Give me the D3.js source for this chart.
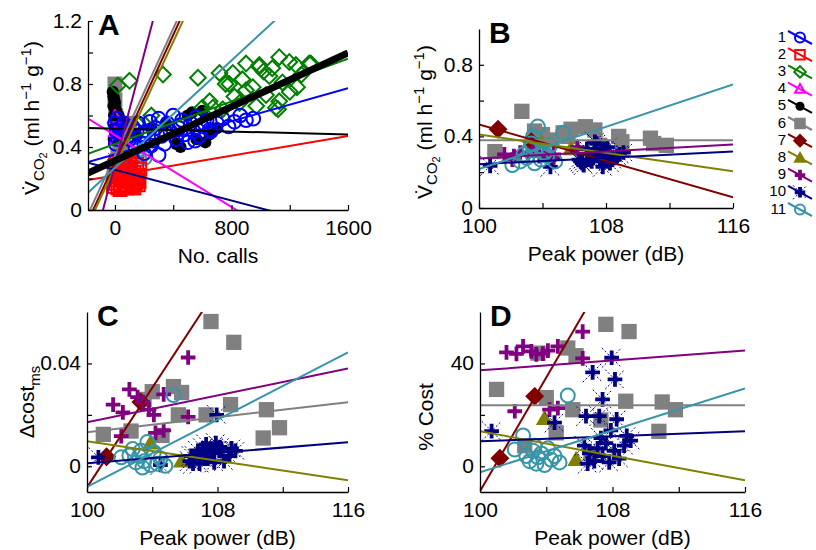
<!DOCTYPE html>
<html>
<head>
<meta charset="utf-8">
<script src="https://cdn.jsdelivr.net/npm/d3@7"></script>
<style>
  body { margin: 0; background: #fff; }
  svg text { font-family: "Liberation Sans", Arial, Helvetica, sans-serif; fill: #000; }
</style>
</head>
<body>
<div id="chart"></div>
<script>
// Series (one per bat), styles follow the legend
const seriesNames = ["1", "2", "3", "4", "5", "6", "7", "8", "9", "10", "11"];
const seriesColors = ["#0000ff", "#ff0000", "#008000", "#ff00ff", "#000000", "#808080",
                      "#800000", "#808000", "#800080", "#000080", "#3795a9"];
const seriesShapes = ["circle", "square", "diamond", "triangle", "dot", "block",
                      "gem", "wedge", "plus", "asterisk", "circle"];

// Panel A: number of calls vs VCO2, per series
const callsA = [
  [0, 10, 20, 5, 15, 30, 40, 60, 80, 100, 120, 140, 160, 180, 200, 220, 240, 260, 280, 300, 320, 340, 360, 380, 400, 420, 440, 460, 480, 500, 520, 540, 560, 580, 600, 630, 660, 700, 740, 780, 820, 860, 900, 950, 90, 300, 250, 350, 450, 550, 650, 150, 200],
  [-10, 0, 10, 20, 30, 40, 50, 60, 70, 80, 90, 100, 110, 120, 130, 140, 150, 160, 170, 5, 25, 55, 100, 15, 45, 130, 160, 35, 65, 85, 115, 145, 165, -5, 75, 105, 125, 155],
  [20, 100, 330, 570, 785, 875, 900, 990, 1128, 1242, 1333, 1150, 1037, 1128, 809, 718, 650, 946, 1060, 855, 970, 740, 600, 672, 1105, 1120, 1345, 1197, 991, 1200, 1280, 1020, 900, 820, 760, 1250, 1080, 150, 250],
  [0, 5, 10],
  [-15, -10, -5, 0, -10, 5, 10, -5, 15, 20, 0, 25, 30, 10, -8, 40, 60, 100, 150, 250, 350, 420, 450, 500, 530, 560, 600, 620, 650, 700],
  [0, 0, 5, 10, 20, 40, 60, 80, 100, 30],
  [10, 40],
  [20, 50],
  [0, 5, 10, 15, 20, 25, 30, 8, 12, 18, 22, 28, 35],
  [0, 10, 20, 40, 60, 80, 100, 30, 50],
  [20, 40, 60, 90, 120, 150, 170, 190, 205, 160]
];
const vco2A = [
  [0.55, 0.5, 0.45, 0.42, 0.58, 0.52, 0.47, 0.55, 0.5, 0.45, 0.53, 0.4, 0.55, 0.48, 0.36, 0.5, 0.56, 0.44, 0.52, 0.58, 0.47, 0.42, 0.55, 0.5, 0.6, 0.45, 0.52, 0.57, 0.48, 0.43, 0.55, 0.5, 0.59, 0.47, 0.53, 0.57, 0.5, 0.55, 0.58, 0.53, 0.56, 0.6, 0.57, 0.58, 0.46, 0.35, 0.41, 0.49, 0.54, 0.44, 0.51, 0.5, 0.42],
  [0.15, 0.17, 0.19, 0.14, 0.21, 0.16, 0.23, 0.18, 0.25, 0.2, 0.16, 0.22, 0.27, 0.19, 0.24, 0.17, 0.29, 0.22, 0.26, 0.3, 0.27, 0.31, 0.3, 0.24, 0.2, 0.14, 0.16, 0.13, 0.15, 0.14, 0.15, 0.2, 0.18, 0.22, 0.28, 0.25, 0.21, 0.19],
  [0.79, 0.82, 0.86, 0.84, 0.8, 0.83, 0.93, 0.91, 0.97, 0.92, 0.93, 0.81, 0.73, 0.69, 0.87, 0.87, 0.69, 0.78, 0.85, 0.68, 0.66, 0.64, 0.65, 0.65, 0.65, 0.64, 0.93, 0.94, 0.92, 0.75, 0.86, 0.88, 0.76, 0.72, 0.8, 0.78, 0.9, 0.55, 0.6],
  [0.59, 0.5, 0.45],
  [0.75, 0.72, 0.7, 0.68, 0.66, 0.64, 0.62, 0.6, 0.58, 0.55, 0.53, 0.6, 0.5, 0.48, 0.45, 0.52, 0.56, 0.5, 0.47, 0.52, 0.55, 0.42, 0.4, 0.6, 0.62, 0.45, 0.63, 0.43, 0.48, 0.52],
  [0.8, 0.7, 0.6, 0.5, 0.35, 0.4, 0.45, 0.5, 0.55, 0.3],
  [0.32, 0.38],
  [0.32, 0.37],
  [0.28, 0.3, 0.32, 0.3, 0.34, 0.36, 0.38, 0.29, 0.33, 0.35, 0.31, 0.37, 0.4],
  [0.25, 0.22, 0.3, 0.27, 0.33, 0.24, 0.28, 0.36, 0.26],
  [0.26, 0.3, 0.28, 0.33, 0.36, 0.34, 0.32, 0.35, 0.33, 0.38]
];
// fitted lines in A: value at calls = -185 and at calls = 1600
const fitA = [[0.305, 0.774], [0.19, 0.47], [0.356, 0.96], [0.58, -0.436], [0.52, 0.48],
              [-0.028, 3.57], [-0.071, 3.535], [-0.096, 3.455], [-0.361, 5.9], [0.30, -0.135], [0.11, 1.631]];
const fitAll = [0.235, 0.997];

// Panels B-D: peak power (dB) for series 6..11
const peakDb = [
  [101.0, 102.7, 103.5, 104.0, 104.6, 105.3, 105.6, 105.8, 106.7, 107.3, 107.6, 108.8, 109.0, 110.8, 111.0, 111.8],
  [101.2, 103.3],
  [103.9, 105.8],
  [101.6, 102.1, 102.2, 102.6, 103.1, 103.4, 103.8, 104.1, 104.2, 104.7, 104.7, 106.2, 106.2],
  [100.7, 104.5, 106.4, 106.8, 107.2, 107.4, 107.95, 108.15, 108.25, 108.86, 107.9, 106.3, 106.6, 106.9, 107.1, 107.4, 107.6, 107.8, 108.1, 108.4, 108.7, 109.1, 106.5, 107.3],
  [105.3, 102.6, 102.1, 102.8, 103.0, 103.2, 103.4, 103.5, 103.7, 103.9, 104.1, 104.3, 104.5, 104.8, 103.3]
];
const vco2B = [
  [0.315, 0.54, 0.43, 0.41, 0.38, 0.42, 0.40, 0.44, 0.454, 0.436, 0.35, 0.40, 0.37, 0.39, 0.36, 0.35],
  [0.44, 0.37],
  [0.37, 0.33],
  [0.30, 0.27, 0.29, 0.31, 0.30, 0.33, 0.29, 0.31, 0.30, 0.30, 0.28, 0.34, 0.33],
  [0.235, 0.23, 0.26, 0.33, 0.28, 0.36, 0.29, 0.30, 0.25, 0.30, 0.33, 0.27, 0.24, 0.30, 0.26, 0.32, 0.28, 0.23, 0.34, 0.27, 0.29, 0.31, 0.25, 0.37],
  [0.42, 0.26, 0.24, 0.30, 0.28, 0.33, 0.40, 0.25, 0.455, 0.27, 0.31, 0.29, 0.35, 0.26, 0.36]
];
const dCostC = [
  [0.0124, 0.0137, 0.026, 0.029, 0.012, 0.031, 0.02, 0.0287, 0.004, 0.02, 0.0563, 0.024, 0.0482, 0.011, 0.022, 0.015],
  [0.0037, 0.025],
  [0.009, 0.002],
  [0.024, 0.0117, 0.021, 0.0299, 0.0269, 0.025, 0.022, 0.02, 0.013, 0.028, 0.014, 0.0423, 0.0192],
  [0.0035, 0.0005, 0.004, 0.006, 0.003, 0.005, 0.02, 0.0075, 0.006, 0.007, 0.009, 0.002, 0.004, 0.001, 0.007, 0.003, 0.005, 0.0015, 0.006, 0.002, 0.004, 0.006, 0.001, 0.0085],
  [0.0277, 0.0042, 0.0035, 0.0067, 0.0015, 0.004, -0.0005, 0.002, 0.0094, 0.0005, 0.0055, 0.001, 0.003, 0.0002, 0.006]
];
const pctCostD = [
  [29.9, 8, 44, 26.7, 13, 46, 22, 43, 5, 18, 55.2, 25.3, 52.4, 13.6, 25, 22],
  [3.1, 27.2],
  [18.5, 2.5],
  [44.3, 21.4, 43.7, 46.6, 44.7, 43.5, 43.8, 45, 22, 46.6, 22.6, 52.4, 42],
  [13.7, 17, 19.5, 36.5, 19.5, 26, 42.2, 33.8, 18.3, 11.8, 14, 8, 5, 2, 7, 4, 9, 1.5, 6, 3, 8, 10, 1, 11],
  [27.5, 12, 6.5, 4, 2, 6, 1, 3.5, 5, 0.5, 7, 2.5, 4, 1.5, 8]
];
// fitted lines in B-D: value at 100 dB and at 116 dB
const fitB = [[0.378, 0.378], [0.467, 0.06], [0.41, 0.205], [0.277, 0.355], [0.245, 0.315], [0.217, 0.69]];
const fitC = [[0.0132, 0.0249], [-0.0082, 0.1467], [0.0097, -0.0054], [0.0171, 0.038], [0.0012, 0.0093], [-0.008, 0.0443]];
const fitD = [[23.7, 23.7], [-9.7, 167.3], [13.6, -5.4], [37.3, 45], [9.7, 13.6], [-2.3, 30.3]];

const width = 816, height = 550;
const svg = d3.select("#chart").append("svg")
    .attr("width", width)
    .attr("height", height);

// MATLAB-like markers
function marker(g, shape, color, x, y, s) {
  const m = g.append("g").attr("transform", `translate(${x},${y})`);
  if (shape === "circle") {
    m.append("circle").attr("r", s).attr("fill", "none").attr("stroke", color).attr("stroke-width", 2);
  } else if (shape === "dot") {
    m.append("circle").attr("r", s * 0.9).attr("fill", color);
  } else if (shape === "square" || shape === "block") {
    m.append("rect").attr("x", -s * 0.95).attr("y", -s * 0.95).attr("width", s * 1.9).attr("height", s * 1.9)
      .attr("fill", shape === "block" ? color : "none").attr("stroke", color).attr("stroke-width", 2);
  } else if (shape === "diamond" || shape === "gem") {
    const d = s * 1.15;
    m.append("path").attr("d", `M0,${-d}L${d},0L0,${d}L${-d},0Z`)
      .attr("fill", shape === "gem" ? color : "none").attr("stroke", color).attr("stroke-width", 2);
  } else if (shape === "triangle" || shape === "wedge") {
    m.append("path").attr("d", `M0,${-s}L${s},${s * 0.75}L${-s},${s * 0.75}Z`)
      .attr("fill", shape === "wedge" ? color : "none").attr("stroke", color).attr("stroke-width", 2);
  } else if (shape === "plus") {
    const d = s * 1.05;
    m.append("path").attr("d", `M${-d},0H${d}M0,${-d}V${d}`).attr("stroke", color).attr("stroke-width", 3.8);
  } else if (shape === "asterisk") {
    const d = s * 1.4, p = s * 1.05;
    m.append("path").attr("d", `M${-d},${-d}L${d},${d}M${-d},${d}L${d},${-d}`)
      .attr("stroke", color).attr("stroke-width", 1).attr("stroke-dasharray", "2,2");
    m.append("path").attr("d", `M${-p},0H${p}M0,${-p}V${p}`).attr("stroke", color).attr("stroke-width", 3.8);
  }
}

let clipId = 0;
function panel(opt) {
  const g = svg.append("g");
  const x = d3.scaleLinear().domain(opt.xDomain).range(opt.xRange);
  const y = d3.scaleLinear().domain(opt.yDomain).range(opt.yRange);
  const id = "clip" + (clipId++);
  svg.append("clipPath").attr("id", id).append("rect")
    .attr("x", opt.xRange[0]).attr("y", opt.yRange[1])
    .attr("width", opt.xRange[1] - opt.xRange[0]).attr("height", opt.yRange[0] - opt.yRange[1]);

  // points
  const pts = g.append("g");
  opt.order.forEach(i => {
    const k = i - opt.first;
    opt.xs[k].forEach((v, j) => {
      marker(pts, seriesShapes[i], seriesColors[i], x(v), y(opt.ys[k][j]), opt.size);
    });
  });

  // fitted lines
  const lines = g.append("g").attr("clip-path", `url(#${id})`);
  opt.fits.forEach((f, k) => {
    const i = k + opt.first;
    lines.append("line")
      .attr("x1", x(opt.xDomain[0])).attr("y1", y(f[0]))
      .attr("x2", x(opt.xDomain[1])).attr("y2", y(f[1]))
      .attr("stroke", seriesColors[i]).attr("stroke-width", 2);
  });
  if (opt.fitAll) {
    lines.append("line")
      .attr("x1", x(opt.xDomain[0])).attr("y1", y(opt.fitAll[0]))
      .attr("x2", x(opt.xDomain[1])).attr("y2", y(opt.fitAll[1]))
      .attr("stroke", "#000").attr("stroke-width", 7);
  }

  // axes, ticks pointing inward
  const xAxis = d3.axisBottom(x).tickValues(opt.xTicks).tickSizeInner(-5).tickSizeOuter(0).tickPadding(10)
    .tickFormat(d => opt.xLabels.includes(d) ? d : "");
  const yAxis = d3.axisLeft(y).tickValues(opt.yTicks).tickSizeInner(-5).tickSizeOuter(0).tickPadding(6)
    .tickFormat(d => opt.yLabels.includes(d) ? (opt.yFmt ? opt.yFmt(d) : d) : "");
  const gx = g.append("g").attr("transform", `translate(0,${opt.yRange[0]})`).call(xAxis);
  const gy = g.append("g").attr("transform", `translate(${opt.xRange[0]},0)`).call(yAxis);
  [gx, gy].forEach(a => {
    a.select(".domain").attr("stroke", "#000").attr("stroke-width", 1.3);
    a.selectAll(".tick line").attr("stroke", "#000").attr("stroke-width", 1.2);
    a.selectAll("text").style("font-size", "21px").attr("font-family", null);
  });
  gy.selectAll("text").attr("dy", "0.3em");

  // panel letter
  g.append("text").attr("x", opt.xRange[0] + 10).attr("y", opt.yRange[1] + 14)
    .style("font-size", "30px").style("font-weight", "bold").text(opt.letter);

  // x title
  g.append("text").attr("x", (opt.xRange[0] + opt.xRange[1]) / 2).attr("y", opt.yRange[0] + 53)
    .attr("text-anchor", "middle").style("font-size", "21px").text(opt.xTitle);
  return g;
}

function vco2Title(px, py) {
  const t = svg.append("text").attr("transform", `translate(${px},${py}) rotate(-90)`)
    .attr("text-anchor", "middle").style("font-size", "21px");
  t.append("tspan").text("V\u0307");
  t.append("tspan").attr("dy", 5).style("font-size", "15px").text("CO");
  t.append("tspan").attr("dy", 3).style("font-size", "11px").text("2");
  t.append("tspan").attr("dy", -8).text(" (ml h");
  t.append("tspan").attr("dy", -8).style("font-size", "15px").text("\u22121");
  t.append("tspan").attr("dy", 8).text(" g");
  t.append("tspan").attr("dy", -8).style("font-size", "15px").text("\u22121");
  t.append("tspan").attr("dy", 8).text(")");
}

const fmtDec = d => d === 0 ? "0" : d3.format(".1f")(d);

// Panel A
panel({
  letter: "A", xDomain: [-185, 1600], xRange: [88, 348], yDomain: [0, 1.2], yRange: [210, 21],
  xs: callsA, ys: vco2A, first: 0, order: [10, 9, 8, 7, 6, 5, 4, 3, 2, 1, 0], size: 6.8,
  fits: fitA, fitAll: fitAll,
  xTicks: [0, 400, 800, 1200, 1600], xLabels: [0, 800, 1600],
  yTicks: [0, 0.2, 0.4, 0.6, 0.8, 1.0, 1.2], yLabels: [0, 0.4, 0.8, 1.2], yFmt: fmtDec,
  xTitle: "No. calls"
});
vco2Title(39, 118);

// Panel B
panel({
  letter: "B", xDomain: [100, 116], xRange: [479, 733], yDomain: [0, 1], yRange: [208, 29],
  xs: peakDb, ys: vco2B, first: 5, order: [5, 6, 7, 8, 9, 10], size: 7,
  fits: fitB,
  xTicks: [100, 104, 108, 112, 116], xLabels: [100, 108, 116],
  yTicks: [0, 0.2, 0.4, 0.6, 0.8], yLabels: [0, 0.4, 0.8], yFmt: fmtDec,
  xTitle: "Peak power (dB)"
});
vco2Title(432, 122);

// Panel C
panel({
  letter: "C", xDomain: [100, 116], xRange: [87, 348], yDomain: [-0.01, 0.06], yRange: [492, 312],
  xs: peakDb, ys: dCostC, first: 5, order: [5, 6, 7, 8, 9, 10], size: 7,
  fits: fitC,
  xTicks: [100, 104, 108, 112, 116], xLabels: [100, 108, 116],
  yTicks: [0, 0.02, 0.04], yLabels: [0, 0.04], yFmt: d => d === 0 ? "0" : d3.format(".2f")(d),
  xTitle: "Peak power (dB)"
});
const cTitle = svg.append("text").attr("transform", "translate(34,402) rotate(-90)")
  .attr("text-anchor", "middle").style("font-size", "21px");
cTitle.append("tspan").text("\u0394cost");
cTitle.append("tspan").attr("dy", 6).style("font-size", "15px").text("ms");

// Panel D
panel({
  letter: "D", xDomain: [100, 116], xRange: [480, 745], yDomain: [-10, 60], yRange: [492, 312],
  xs: peakDb, ys: pctCostD, first: 5, order: [5, 6, 7, 8, 9, 10], size: 7,
  fits: fitD,
  xTicks: [100, 104, 108, 112, 116], xLabels: [100, 108, 116],
  yTicks: [0, 20, 40], yLabels: [0, 40],
  xTitle: "Peak power (dB)"
});
svg.append("text").attr("transform", "translate(433,417) rotate(-90)")
  .attr("text-anchor", "middle").style("font-size", "21px").text("% Cost");

// Legend
const legend = svg.append("g");
seriesNames.forEach((name, i) => {
  const cy = 36 + i * 17.2;
  legend.append("text").attr("x", 786).attr("y", cy + 5.5).attr("text-anchor", "end")
    .style("font-size", "15px").text(name);
  legend.append("line").attr("x1", 788).attr("y1", cy - 5).attr("x2", 812).attr("y2", cy + 8)
    .attr("stroke", seriesColors[i]).attr("stroke-width", 2);
  marker(legend, seriesShapes[i], seriesColors[i], 800, cy + 1.5, 5);
});
</script>
</body>
</html>
